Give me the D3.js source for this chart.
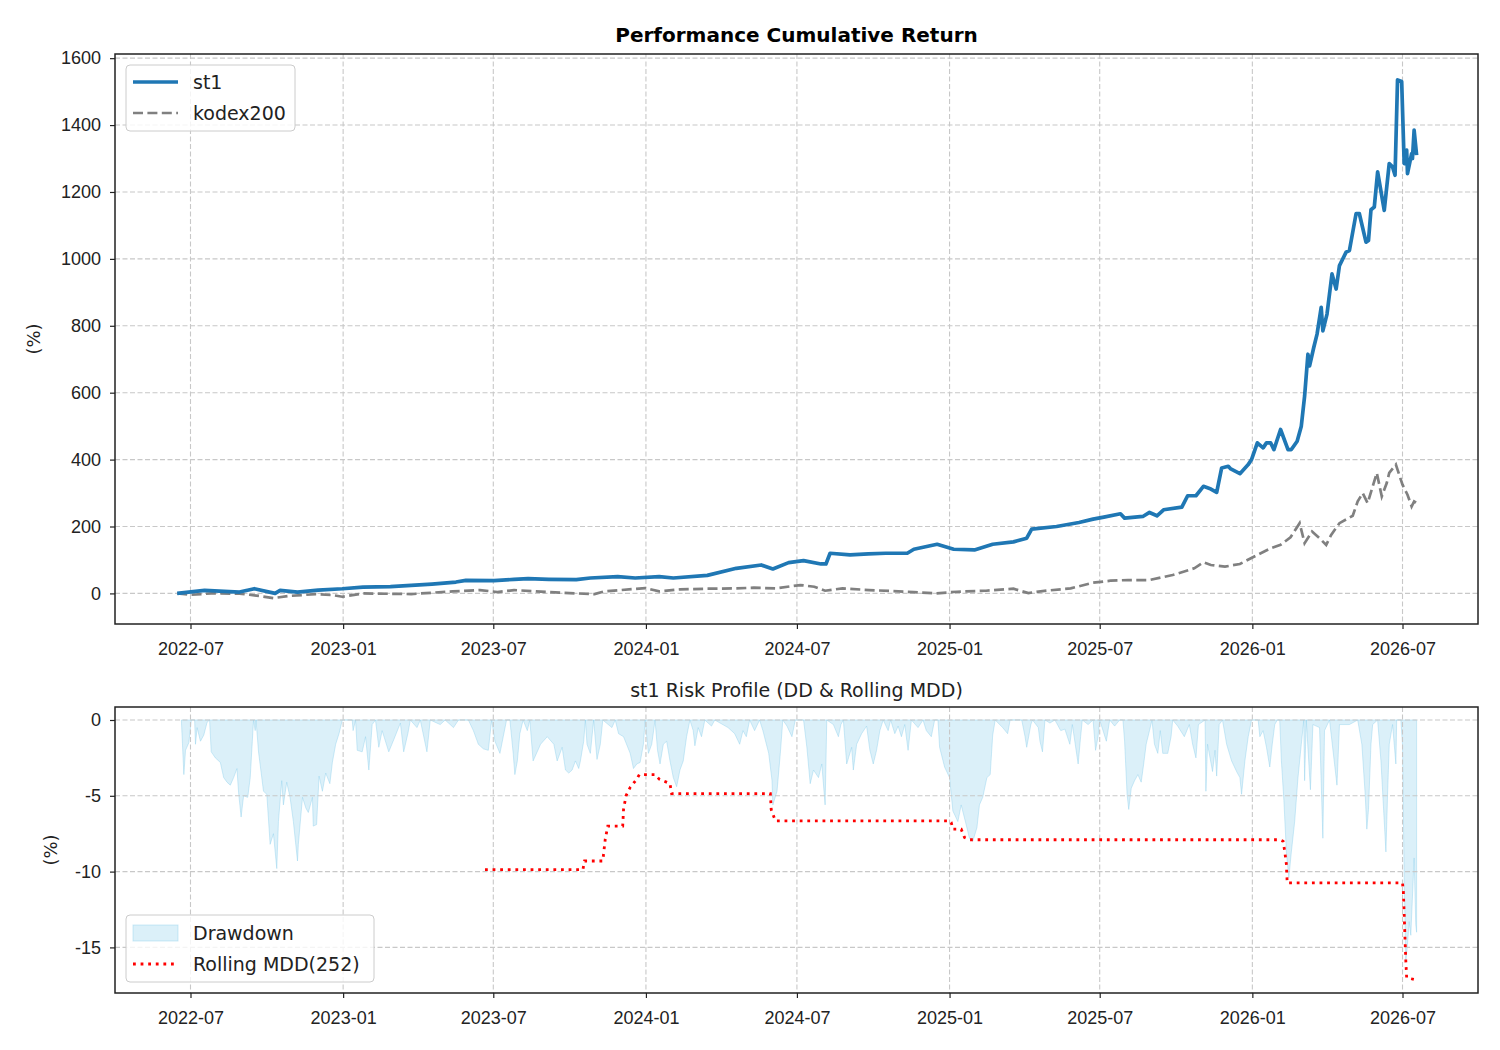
<!DOCTYPE html>
<html>
<head>
<meta charset="utf-8">
<script src="https://cdn.jsdelivr.net/npm/d3@7"></script>
<style>
  body { margin: 0; background: #fff; }
  svg { font-family: "DejaVu Sans", sans-serif; }
</style>
</head>
<body>
<svg id="chart" width="1500" height="1050"></svg>
<script>
// all x values are day offsets from this date
var baseDate = new Date(2022, 6, 1);

var xTicks = ["2022-07-01", "2023-01-01", "2023-07-01", "2024-01-01", "2024-07-01",
              "2025-01-01", "2025-07-01", "2026-01-01", "2026-07-01"];
var topTicks = [0, 200, 400, 600, 800, 1000, 1200, 1400, 1600];
var bottomTicks = [0, -5, -10, -15];

// cumulative return (%), [day, value]
var st1 = [[-16,0],[17,9],[59,4],[77,14],[102,0],[108,9],[129,4],[154,10],[183,14],[208,19],
  [241,20],[266,24],[291,28],[320,34],[332,39],[366,38],[390,42],[407,44],[432,42],[465,41],
  [482,46],[515,50],[536,46],[565,50],[582,46],[623,54],[658,75],[688,85],[702,73],[721,92],
  [739,98],[760,88],[766,88],[771,120],[795,115],[817,118],[838,120],[864,120],[872,132],[900,147],
  [920,132],[945,130],[967,147],[992,154],[1008,165],[1014,192],[1044,200],[1071,212],[1088,222],[1101,228],
  [1121,238],[1126,225],[1148,230],[1156,242],[1165,232],[1173,250],[1195,258],[1202,292],[1212,292],[1221,320],
  [1230,312],[1237,302],[1243,375],[1251,380],[1254,372],[1265,358],[1275,385],[1279,400],[1286,450],[1293,435],
  [1297,450],[1302,450],[1306,430],[1314,490],[1323,430],[1327,430],[1334,455],[1339,500],[1343,590],[1347,715],
  [1349,680],[1354,735],[1358,775],[1363,855],[1365,785],[1370,835],[1376,955],[1381,910],[1385,980],[1393,1020],
  [1397,1025],[1405,1135],[1409,1135],[1417,1050],[1420,1055],[1423,1147],[1427,1155],[1431,1260],[1439,1145],[1445,1285],
  [1449,1275],[1452,1250],[1455,1535],[1460,1530],[1463,1285],[1466,1325],[1467,1255],[1472,1315],[1473,1300],[1475,1385],
  [1478,1310]];

var kodex200 = [[-16,0],[1,-4],[25,0],[59,-1],[71,-4],[84,-8],[100,-14],[117,-8],[151,-2],[171,-5],
  [183,-10],[208,0],[266,-2],[316,6],[349,10],[370,4],[390,10],[432,4],[465,0],[487,-2],
  [499,6],[548,16],[565,6],[590,12],[623,14],[658,15],[679,17],[705,15],[735,25],[752,20],
  [765,8],[786,15],[818,10],[872,4],[898,0],[924,5],[959,8],[992,14],[1010,1],[1027,7],
  [1061,15],[1088,32],[1109,38],[1130,40],[1156,40],[1184,55],[1210,75],[1221,93],[1230,85],[1247,80],
  [1265,88],[1286,115],[1302,135],[1314,145],[1326,168],[1337,210],[1343,150],[1352,185],[1361,165],[1369,145],
  [1375,175],[1385,210],[1401,232],[1407,275],[1413,300],[1419,270],[1430,360],[1436,290],[1442,330],[1445,360],
  [1453,385],[1455,370],[1461,325],[1467,295],[1472,260],[1475,275],[1478,270]];

// st1 drawdown (%), [day, value]
var drawdown = [[-11,0],[-8,-3.6],[-6,-2.0],[-2,-1.5],[1,0],[5,0],[6,-1.6],[8,-0.5],[12,-1.4],[16,-1.0],
  [20,-0.15],[23,0],[25,-2.1],[30,-2.5],[36,-2.8],[40,-3.8],[44,-4.1],[48,-4.3],[52,-3.8],[56,-3.2],
  [58,-4.8],[61,-6.4],[64,-5.0],[69,-5.1],[72,-3.8],[76,0],[78,-0.7],[79,0],[82,-2.1],[88,-4.7],
  [92,-4.9],[96,-8.2],[100,-7.5],[104,-9.8],[106,-6.7],[110,-4.0],[112,-5.6],[116,-4.1],[120,-5.1],[124,-6.7],
  [129,-9.3],[130,-8.2],[135,-5.1],[139,-5.8],[142,-6.1],[147,-5.1],[148,-7.0],[152,-6.9],[155,-3.7],[159,-4.7],
  [163,-3.5],[168,-4.2],[171,-2.8],[175,-1.6],[179,-0.9],[183,0],[195,0],[196,-0.7],[199,0],[201,-2.0],
  [207,-2.1],[211,-1.1],[215,-3.3],[219,-0.3],[223,0],[227,-1.8],[231,-0.7],[239,-2.1],[245,-1.3],[253,-0.2],
  [257,-2.1],[262,-0.9],[265,0],[273,-0.5],[277,0],[285,-2.1],[289,0],[301,-0.3],[307,0],[317,-0.5],
  [323,0],[335,0],[341,-0.7],[347,-1.6],[353,-1.9],[359,-2.0],[363,0],[367,-1.4],[373,-2.2],[377,-1.1],
  [381,0],[385,0],[389,-2.2],[391,-3.6],[394,-2.7],[397,-0.9],[401,0],[406,-0.7],[409,0],[413,-2.7],
  [422,-1.6],[430,-1.1],[438,-1.6],[442,-2.7],[448,-1.8],[452,-3.3],[456,-3.5],[460,-3.3],[464,-2.7],[468,-3.2],
  [470,-2.7],[474,-1.4],[476,0],[478,-1.6],[482,-2.2],[486,0],[490,-2.6],[494,-1.6],[497,0],[508,-0.5],
  [512,0],[516,-0.9],[522,-1.1],[530,-2.2],[534,-3.2],[538,-2.9],[542,-2.8],[546,-1.6],[548,0],[552,-2.2],
  [556,-1.6],[560,0],[563,-2.0],[566,-2.9],[570,-1.6],[574,-1.4],[578,-2.7],[582,-3.8],[586,-4.4],[590,-3.3],
  [594,-2.7],[598,-1.1],[602,0],[606,-0.7],[608,-1.7],[612,-0.5],[616,-1.1],[620,0],[628,-0.4],[632,0],
  [648,-0.5],[656,-0.9],[662,-1.6],[666,-0.7],[670,-1.1],[674,0],[680,-0.7],[686,0],[690,-0.7],[697,-2.2],
  [701,-4.0],[702,-5.6],[707,-4.7],[711,-2.2],[714,0],[719,-0.4],[725,-1.1],[729,0],[739,0],[743,-1.8],
  [747,-4.2],[751,-3.3],[757,-3.8],[761,-2.9],[765,-5.6],[767,0],[775,-0.3],[781,-1.1],[784,-0.3],[787,0],
  [791,-2.9],[797,-1.8],[799,-3.3],[803,-1.6],[809,-0.9],[815,-0.4],[819,-2.0],[823,-2.9],[827,-2.0],[831,-0.7],
  [835,0],[841,-0.7],[844,0],[849,-0.9],[853,-0.4],[857,-1.1],[861,-0.3],[865,-2.0],[869,0],[877,-0.5],
  [883,0],[887,-0.7],[893,-1.1],[897,0],[901,0],[903,-1.8],[909,-3.1],[915,-3.8],[919,-6.0],[925,-6.7],
  [929,-5.6],[935,-6.9],[939,-7.8],[943,-8.0],[948,-7.1],[951,-5.6],[955,-5.1],[960,-3.8],[964,-3.6],[967,-1.0],
  [970,0],[979,-0.5],[985,-0.9],[988,0],[1002,0],[1006,-1.1],[1008,-1.8],[1013,-0.3],[1015,0],[1022,-0.5],
  [1024,-1.4],[1027,-2.1],[1030,0],[1036,-0.2],[1042,0],[1049,-0.7],[1054,-0.6],[1060,-1.6],[1063,-0.3],[1070,-2.9],
  [1073,-1.1],[1075,0],[1082,-0.3],[1088,0],[1091,-2.0],[1094,-1.1],[1096,0],[1104,-1.4],[1108,0],[1114,-0.4],
  [1120,0],[1124,0],[1126,-1.4],[1129,-4.9],[1131,-5.9],[1134,-4.5],[1138,-4.0],[1142,-3.6],[1146,-4.1],[1149,-2.9],
  [1152,-1.6],[1156,-0.7],[1159,0],[1162,-1.6],[1166,-2.2],[1169,-0.7],[1172,-2.2],[1178,-2.2],[1182,-1.1],[1184,0],
  [1190,-0.4],[1198,-1.1],[1204,-0.3],[1208,-1.6],[1212,-2.5],[1215,-0.3],[1223,0],[1224,-4.7],[1226,-1.6],[1232,-3.4],
  [1235,-2.0],[1237,-3.7],[1240,-0.3],[1244,0],[1249,-1.6],[1255,-2.7],[1261,-3.4],[1265,-3.8],[1267,-4.9],[1271,-2.7],
  [1275,-1.1],[1279,0],[1287,0],[1289,-1.1],[1293,-0.7],[1297,-1.8],[1301,-3.1],[1304,-1.6],[1307,-0.3],[1310,0],
  [1313,0],[1315,-2.7],[1318,-5.3],[1321,-8.7],[1324,-10.4],[1327,-8.7],[1331,-6.7],[1335,-3.8],[1339,-1.6],[1342,0],
  [1343,-4.0],[1345,0],[1350,-4.6],[1353,-0.3],[1361,-0.5],[1365,-7.8],[1367,-0.7],[1373,0],[1382,-4.3],[1385,-0.3],
  [1397,-0.3],[1407,0],[1412,-1.6],[1416,-4.9],[1418,-7.2],[1420,-5.9],[1423,-1.6],[1425,-0.3],[1431,0],[1435,-2.7],
  [1441,-8.7],[1443,-4.9],[1445,-1.6],[1449,-0.3],[1453,-2.9],[1454,0],[1459,0],[1461,-1.6],[1463,-10.4],[1465,-15.9],
  [1467,-14.8],[1469,-13.3],[1471,-14.2],[1475,-9.1],[1477,-13.5],[1478,-14.0]];

// rolling 252-day MDD (%), [day, value]
var rollingMdd = [[355,-9.87],[473,-9.87],[475,-9.3],[497,-9.3],[500,-7.85],[503,-7.0],[521,-7.0],[522,-5.9],
  [525,-5.0],[530,-4.45],[538,-3.9],[541,-3.6],[560,-3.6],[565,-3.9],[578,-4.2],[580,-4.85],[699,-4.85],
  [700,-5.9],[705,-6.65],[915,-6.65],[917,-6.76],[919,-7.2],[929,-7.2],[933,-7.75],[939,-7.9],[1313,-7.9],
  [1317,-8.0],[1319,-8.65],[1321,-9.5],[1322,-10.75],[1461,-10.75],[1462,-11.3],[1463,-12.8],[1464,-14.4],
  [1465,-15.9],[1466,-17.0],[1478,-17.15]];

var svg = d3.select("#chart");
var left = 115, right = 1478;
var top1 = 54, bottom1 = 624;
var top2 = 707, bottom2 = 993;
var textColor = "#222";

function toDate(d) { return d3.timeDay.offset(baseDate, d); }

// matplotlib style 5% margins
function padded(lo, hi) {
    var m = (hi - lo) * 0.05;
    return [lo - m, hi + m];
}

var allDays = st1.concat(kodex200, drawdown, rollingMdd).map(function(p) { return p[0]; });
var dayExt = padded(d3.min(allDays), d3.max(allDays));
var x = d3.scaleTime()
    .domain([toDate(dayExt[0]), toDate(dayExt[1])])
    .range([left, right]);

var topVals = st1.concat(kodex200).map(function(p) { return p[1]; });
var yTop = d3.scaleLinear()
    .domain(padded(d3.min(topVals), d3.max(topVals)))
    .range([bottom1, top1]);

var botVals = drawdown.concat(rollingMdd).map(function(p) { return p[1]; });
var yBot = d3.scaleLinear()
    .domain(padded(d3.min(botVals), d3.max(botVals)))
    .range([bottom2, top2]);

var tickDates = xTicks.map(function(s) { return d3.timeParse("%Y-%m-%d")(s); });

function drawGrid(y, yticks, y0, y1) {
    var g = svg.append("g").attr("class", "grid");
    g.selectAll("line.gx")
        .data(tickDates)
      .enter().append("line")
        .attr("x1", function(d) { return x(d); })
        .attr("x2", function(d) { return x(d); })
        .attr("y1", y0).attr("y2", y1);
    g.selectAll("line.gy")
        .data(yticks)
      .enter().append("line")
        .attr("x1", left).attr("x2", right)
        .attr("y1", function(d) { return y(d); })
        .attr("y2", function(d) { return y(d); });
    g.selectAll("line")
        .attr("stroke", "#c8c8c8")
        .attr("stroke-width", 1.1)
        .attr("stroke-dasharray", "5,2.5");
}

function drawAxes(y, yticks, y0, y1) {
    var xa = svg.append("g")
        .attr("transform", "translate(0," + y1 + ")")
        .call(d3.axisBottom(x).tickValues(tickDates).tickFormat(d3.timeFormat("%Y-%m"))
            .tickSize(5).tickPadding(13).tickSizeOuter(0));
    var ya = svg.append("g")
        .attr("transform", "translate(" + left + ",0)")
        .call(d3.axisLeft(y).tickValues(yticks).tickFormat(function(d) { return String(d); })
            .tickSize(5).tickPadding(9).tickSizeOuter(0));
    [xa, ya].forEach(function(a) {
        a.select(".domain").remove();
        a.selectAll("line").attr("stroke", textColor).attr("stroke-width", 1.2);
        a.selectAll("text").attr("fill", textColor).style("font-size", "18px");
    });
    // frame
    svg.append("rect")
        .attr("x", left).attr("y", y0)
        .attr("width", right - left).attr("height", y1 - y0)
        .attr("fill", "none")
        .attr("stroke", textColor)
        .attr("stroke-width", 1.5);
}

// ---------- top panel ----------
drawGrid(yTop, topTicks, top1, bottom1);

var line = d3.line()
    .x(function(p) { return x(toDate(p[0])); })
    .y(function(p) { return yTop(p[1]); });

svg.append("path")
    .datum(kodex200)
    .attr("d", line)
    .attr("fill", "none")
    .attr("stroke", "#808080")
    .attr("stroke-width", 2.7)
    .attr("stroke-dasharray", "10,4.4");

svg.append("path")
    .datum(st1)
    .attr("d", line)
    .attr("fill", "none")
    .attr("stroke", "#1f77b4")
    .attr("stroke-width", 3.7)
    .attr("stroke-linejoin", "round");

drawAxes(yTop, topTicks, top1, bottom1);

svg.append("text")
    .attr("x", (left + right) / 2).attr("y", 42)
    .attr("text-anchor", "middle")
    .attr("fill", "#000")
    .style("font-size", "20px")
    .style("font-weight", "bold")
    .text("Performance Cumulative Return");

svg.append("text")
    .attr("transform", "translate(40," + (top1 + bottom1) / 2 + ") rotate(-90)")
    .attr("text-anchor", "middle")
    .attr("fill", textColor)
    .style("font-size", "18px")
    .text("(%)");

// legend (top)
var lg1 = svg.append("g");
lg1.append("rect")
    .attr("x", 126).attr("y", 65).attr("width", 169).attr("height", 66).attr("rx", 4)
    .attr("fill", "#fff").attr("fill-opacity", 0.8)
    .attr("stroke", "#cccccc");
lg1.append("line").attr("x1", 133).attr("x2", 178).attr("y1", 82).attr("y2", 82)
    .attr("stroke", "#1f77b4").attr("stroke-width", 3.7);
lg1.append("line").attr("x1", 133).attr("x2", 178).attr("y1", 113).attr("y2", 113)
    .attr("stroke", "#808080").attr("stroke-width", 2.7).attr("stroke-dasharray", "10,4.4");
lg1.selectAll("text")
    .data([["st1", 82], ["kodex200", 113]])
  .enter().append("text")
    .attr("x", 193).attr("y", function(d) { return d[1]; })
    .attr("dy", "0.35em")
    .attr("fill", textColor)
    .style("font-size", "19px")
    .text(function(d) { return d[0]; });

// ---------- bottom panel ----------
var area = d3.area()
    .x(function(p) { return x(toDate(p[0])); })
    .y0(yBot(0))
    .y1(function(p) { return yBot(p[1]); });

svg.append("path")
    .datum(drawdown)
    .attr("d", area)
    .attr("fill", "skyblue")
    .attr("fill-opacity", 0.3)
    .attr("stroke", "skyblue")
    .attr("stroke-opacity", 0.4)
    .attr("stroke-width", 1);

drawGrid(yBot, bottomTicks, top2, bottom2);

var mddLine = d3.line()
    .x(function(p) { return x(toDate(p[0])); })
    .y(function(p) { return yBot(p[1]); });

svg.append("path")
    .datum(rollingMdd)
    .attr("d", mddLine)
    .attr("fill", "none")
    .attr("stroke", "red")
    .attr("stroke-width", 2.8)
    .attr("stroke-dasharray", "2.8,4.8");

drawAxes(yBot, bottomTicks, top2, bottom2);

svg.append("text")
    .attr("x", (left + right) / 2).attr("y", 697)
    .attr("text-anchor", "middle")
    .attr("fill", textColor)
    .style("font-size", "19px")
    .text("st1 Risk Profile (DD & Rolling MDD)");

svg.append("text")
    .attr("transform", "translate(57," + (top2 + bottom2) / 2 + ") rotate(-90)")
    .attr("text-anchor", "middle")
    .attr("fill", textColor)
    .style("font-size", "18px")
    .text("(%)");

// legend (bottom)
var lg2 = svg.append("g");
lg2.append("rect")
    .attr("x", 126).attr("y", 915).attr("width", 248).attr("height", 67).attr("rx", 4)
    .attr("fill", "#fff").attr("fill-opacity", 0.8)
    .attr("stroke", "#cccccc");
lg2.append("rect")
    .attr("x", 133).attr("y", 925).attr("width", 45).attr("height", 16)
    .attr("fill", "skyblue").attr("fill-opacity", 0.3)
    .attr("stroke", "skyblue").attr("stroke-opacity", 0.4);
lg2.append("line").attr("x1", 133).attr("x2", 178).attr("y1", 964).attr("y2", 964)
    .attr("stroke", "red").attr("stroke-width", 2.8).attr("stroke-dasharray", "2.8,4.8");
lg2.selectAll("text")
    .data([["Drawdown", 933], ["Rolling MDD(252)", 964]])
  .enter().append("text")
    .attr("x", 193).attr("y", function(d) { return d[1]; })
    .attr("dy", "0.35em")
    .attr("fill", textColor)
    .style("font-size", "19px")
    .text(function(d) { return d[0]; });
</script>
</body>
</html>
